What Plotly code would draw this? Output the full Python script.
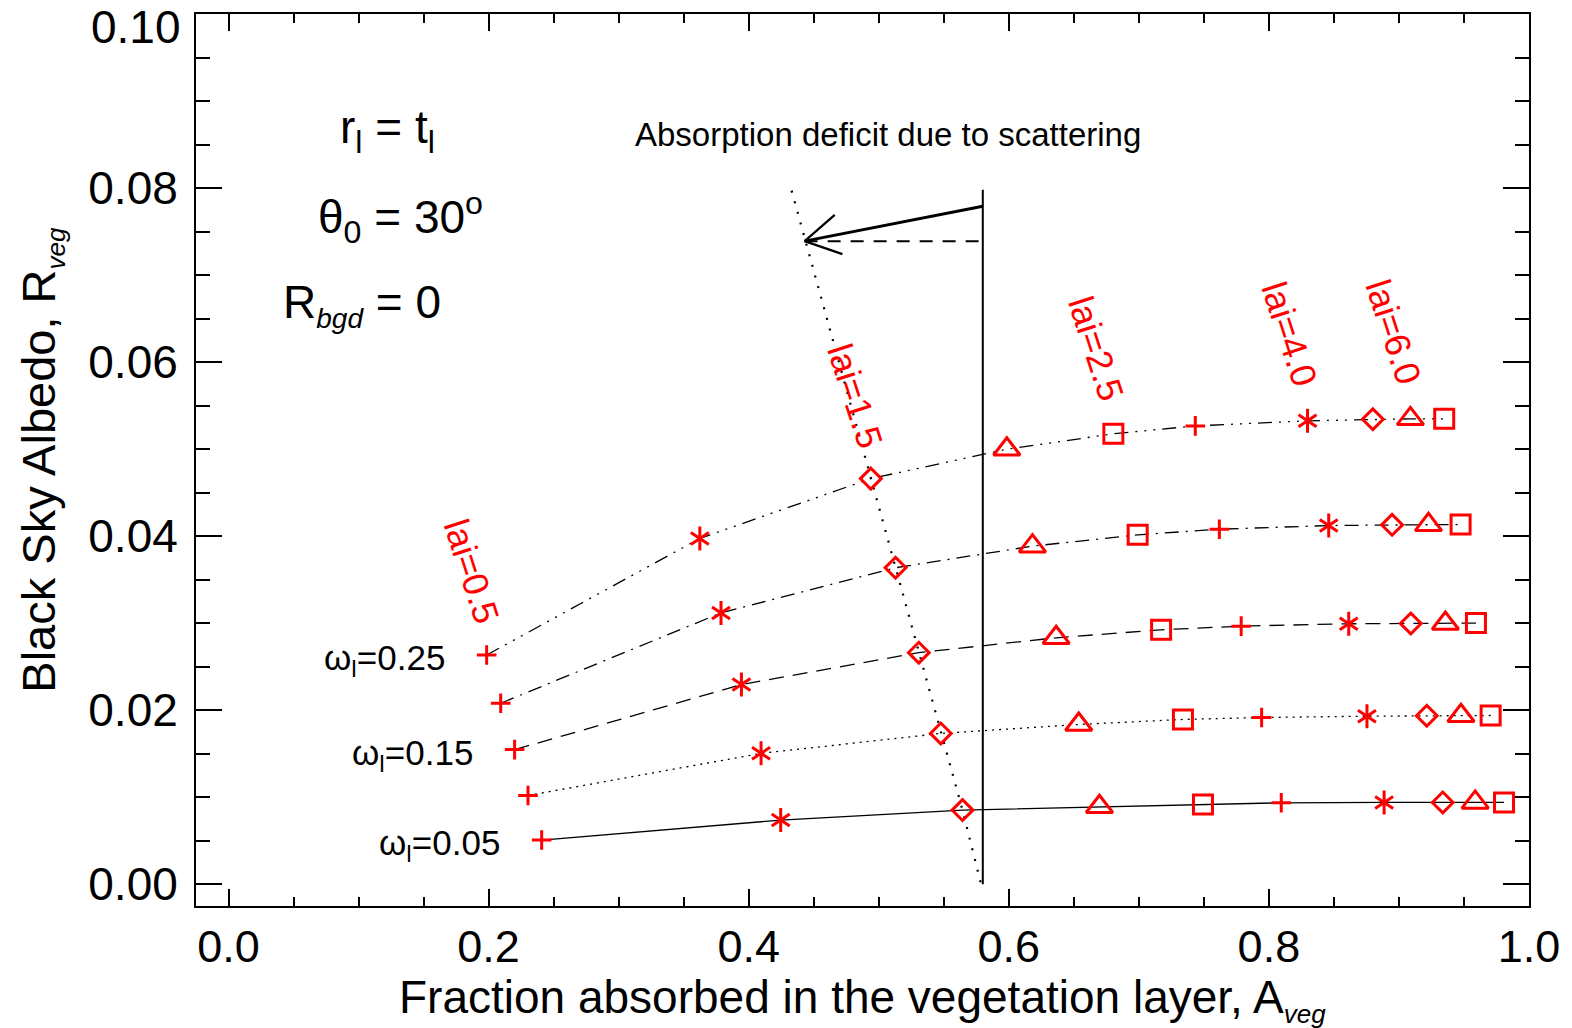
import plotly.graph_objects as go
import math

# ---------------- data ----------------
OMEGA_LABELS = ["0.05", "0.10", "0.15", "0.20", "0.25"]
SYMBOL_SEQ = ["plus", "asterisk", "diamond", "triangle", "square",
              "plus", "asterisk", "diamond", "triangle", "square"]

A_W05 = [0.2408, 0.4246, 0.5644, 0.6697, 0.7493, 0.8095, 0.8886, 0.9337, 0.9586, 0.9808]
R_W05 = [0.00508, 0.00737, 0.00852, 0.00890, 0.00917, 0.00936, 0.00940, 0.00940, 0.00940, 0.00940]
A_W10 = [0.2303, 0.4095, 0.5477, 0.6538, 0.7339, 0.7944, 0.8754, 0.9214, 0.9477, 0.9705]
R_W10 = [0.01020, 0.01504, 0.01733, 0.01836, 0.01894, 0.01916, 0.01931, 0.01936, 0.01936, 0.01939]
A_W15 = [0.2200, 0.3944, 0.5308, 0.6364, 0.7171, 0.7787, 0.8614, 0.9091, 0.9357, 0.9592]
R_W15 = [0.01547, 0.02294, 0.02661, 0.02832, 0.02924, 0.02966, 0.02993, 0.02996, 0.02996, 0.03001]
A_W20 = [0.2093, 0.3787, 0.5129, 0.6182, 0.6991, 0.7619, 0.8460, 0.8947, 0.9227, 0.9474]
R_W20 = [0.02080, 0.03118, 0.03637, 0.03885, 0.04015, 0.04080, 0.04122, 0.04130, 0.04130, 0.04134]
A_W25 = [0.1985, 0.3624, 0.4939, 0.5985, 0.6804, 0.7434, 0.8297, 0.8799, 0.9088, 0.9348]
R_W25 = [0.02634, 0.03974, 0.04661, 0.04999, 0.05176, 0.05267, 0.05325, 0.05343, 0.05348, 0.05348]

# lai = 1.5 iso-line (dotted)
A_LAI15 = [0.433, 0.4939, 0.5129, 0.5308, 0.5477, 0.5644, 0.5787]
R_LAI15 = [0.0797, 0.04661, 0.03637, 0.02661, 0.01733, 0.00852, 0.0000]

# absorption without scattering (vertical line) and the deficit arrow
A_NOSCAT = 0.580
R_NOSCAT_TOP = 0.0798
ARROW_TAIL = (0.580, 0.0779)
ARROW_TIP = (0.443, 0.0739)

X_TICKS = [0.0, 0.2, 0.4, 0.6, 0.8, 1.0]
X_TICK_LABELS = ["0.0", "0.2", "0.4", "0.6", "0.8", "1.0"]
Y_TICKS = [0.00, 0.02, 0.04, 0.06, 0.08, 0.10]
Y_TICK_LABELS = ["0.00", "0.02", "0.04", "0.06", "0.08", "0.10"]

LAI_LABELS = ["lai=0.5", "lai=1.5", "lai=2.5", "lai=4.0", "lai=6.0"]
LAI_LABEL_X = [0.1865, 0.4822, 0.6673, 0.8161, 0.8956]
LAI_LABEL_Y = [0.0360, 0.0561, 0.0616, 0.0632, 0.0635]

# ---------------- styles ----------------
X_RANGE = [-0.025, 1.0]
Y_RANGE = [-0.0025, 0.10]
FONT = "Liberation Sans"
RED = "#ff0000"
MLW = 3

curves = [
    (A_W05, R_W05, "solid"),
    (A_W10, R_W10, "2px,5px"),
    (A_W15, R_W15, "15px,9px"),
    (A_W20, R_W20, "14px,7px,2px,7px"),
    (A_W25, R_W25, "14px,7px,2px,7px,2px,7px,2px,7px"),
]

# each IDL symbol -> list of plotly symbols overlaid (asterisk = two Y shapes)
SYM_MAP = {"plus": ["cross-thin"], "asterisk": ["y-up", "y-down"],
           "diamond": ["diamond-open"], "triangle": ["triangle-up-open"],
           "square": ["square-open"]}
SIZE_MAP = {"plus": 14, "asterisk": 15, "diamond": 16, "triangle": 23, "square": 19}

fig = go.Figure()

# iso-lai dotted line
fig.add_trace(go.Scatter(x=A_LAI15, y=R_LAI15, mode="lines",
                         line=dict(color="black", width=2.2, dash="2px,9px"),
                         hoverinfo="skip"))

for a, r, dash in curves:
    fig.add_trace(go.Scatter(x=a, y=r, mode="lines",
                             line=dict(color="black", width=1.3, dash=dash),
                             hoverinfo="skip"))

for a, r, dash in curves:
    for key, psyms in SYM_MAP.items():
        idx = [i for i, s in enumerate(SYMBOL_SEQ) if s == key]
        for ps in psyms:
            fig.add_trace(go.Scatter(
                x=[a[i] for i in idx], y=[r[i] for i in idx], mode="markers",
                marker=dict(symbol=ps, size=SIZE_MAP[key], color=RED,
                            line=dict(color=RED, width=MLW))))

shapes = [
    dict(type="line", xref="x", yref="y", x0=A_NOSCAT, x1=A_NOSCAT, y0=0.0, y1=R_NOSCAT_TOP,
         line=dict(color="black", width=2)),
    dict(type="line", xref="x", yref="y", x0=ARROW_TAIL[0], x1=ARROW_TIP[0],
         y0=ARROW_TAIL[1], y1=ARROW_TIP[1], line=dict(color="black", width=3)),
    dict(type="line", xref="x", yref="y", x0=ARROW_TIP[0], x1=A_NOSCAT,
         y0=ARROW_TIP[1], y1=ARROW_TIP[1], line=dict(color="black", width=2, dash="13px,10px")),
]
# open arrow head (two strokes at +-30 deg to the shaft, in pixel space)
px_per_x = 1335.0 / (X_RANGE[1] - X_RANGE[0])
px_per_y = 894.0 / (Y_RANGE[1] - Y_RANGE[0])
dxp = (ARROW_TAIL[0] - ARROW_TIP[0]) * px_per_x
dyp = (ARROW_TAIL[1] - ARROW_TIP[1]) * px_per_y
ang = math.atan2(dyp, dxp)
head_len = 40.0
for da in (math.radians(30), -math.radians(30)):
    hx = ARROW_TIP[0] + head_len * math.cos(ang + da) / px_per_x
    hy = ARROW_TIP[1] + head_len * math.sin(ang + da) / px_per_y
    shapes.append(dict(type="line", xref="x", yref="y", x0=ARROW_TIP[0], y0=ARROW_TIP[1],
                       x1=hx, y1=hy, line=dict(color="black", width=2.2)))

annotations = []
for txt, x, y in zip(LAI_LABELS, LAI_LABEL_X, LAI_LABEL_Y):
    annotations.append(dict(text=txt, x=x, y=y, xref="x", yref="y", showarrow=False,
                            textangle=72, xanchor="center", yanchor="middle",
                            font=dict(family=FONT, size=36, color=RED)))

om_pos = {"0.25": (0.1679, 0.02572), "0.15": (0.1899, 0.01485), "0.05": (0.2105, 0.00454)}
for lab in ["0.25", "0.15", "0.05"]:
    x, y = om_pos[lab]
    annotations.append(dict(text="ω<sub>l</sub>=" + lab, x=x, y=y, xref="x", yref="y",
                            showarrow=False, xanchor="right", yanchor="middle",
                            font=dict(family=FONT, size=35, color="black")))

SUB_VEG = '<sub><span style="font-size:26px"><i>veg</i></span></sub>'

annotations += [
    dict(text="r<sub>l</sub> = t<sub>l</sub>", x=0.1224, y=0.0866, xref="x", yref="y",
         showarrow=False, xanchor="center", yanchor="middle",
         font=dict(family=FONT, size=46, color="black")),
    dict(text="θ<sub>0</sub> = 30<sup>o</sup>", x=0.132, y=0.0766, xref="x", yref="y",
         showarrow=False, xanchor="center", yanchor="middle",
         font=dict(family=FONT, size=46, color="black")),
    dict(text='R<sub><span style="font-size:28px"><i>bgd</i></span></sub> = 0',
         x=0.1024, y=0.0666, xref="x", yref="y",
         showarrow=False, xanchor="center", yanchor="middle",
         font=dict(family=FONT, size=46, color="black")),
    dict(text="Absorption deficit due to scattering", x=0.5068, y=0.0862, xref="x", yref="y",
         showarrow=False, xanchor="center", yanchor="middle",
         font=dict(family=FONT, size=33, color="black")),
    # axis titles
    dict(text="Fraction absorbed in the vegetation layer, A" + SUB_VEG,
         x=0.5, y=-0.1052, xref="paper", yref="paper", showarrow=False,
         xanchor="center", yanchor="middle", font=dict(family=FONT, size=46, color="black")),
    dict(text="Black Sky Albedo, R" + SUB_VEG,
         x=-0.1165, y=0.5, xref="paper", yref="paper", showarrow=False, textangle=-90,
         xanchor="center", yanchor="middle", font=dict(family=FONT, size=47, color="black")),
    # top y tick label, drawn just inside the page as in the reference
    dict(text=Y_TICK_LABELS[-1], x=-0.0094, y=0.9855, xref="paper", yref="paper",
         showarrow=False, xanchor="right", yanchor="middle",
         font=dict(family=FONT, size=46, color="black")),
]

y_ticktext = Y_TICK_LABELS[:-1] + [""]

fig.update_layout(
    width=1572, height=1028,
    margin=dict(l=196, r=41, t=12, b=122),
    plot_bgcolor="white", paper_bgcolor="white",
    showlegend=False,
    font=dict(family=FONT, color="black"),
    shapes=shapes, annotations=annotations,
    xaxis=dict(range=X_RANGE, tickvals=X_TICKS, ticktext=X_TICK_LABELS,
               ticks="inside", ticklen=17, tickwidth=2, tickcolor="black",
               showline=True, linewidth=2, linecolor="black", mirror="ticks",
               showgrid=False, zeroline=False,
               tickfont=dict(family=FONT, size=45, color="black"),
               ticklabelstandoff=0,
               minor=dict(dtick=0.05, tick0=0, ticks="inside", ticklen=9,
                          tickwidth=2, tickcolor="black", showgrid=False)),
    yaxis=dict(range=Y_RANGE, tickvals=Y_TICKS, ticktext=y_ticktext,
               ticks="inside", ticklen=26, tickwidth=2, tickcolor="black",
               showline=True, linewidth=2, linecolor="black", mirror="ticks",
               showgrid=False, zeroline=False,
               tickfont=dict(family=FONT, size=46, color="black"),
               ticklabelstandoff=7,
               minor=dict(dtick=0.005, tick0=0, ticks="inside", ticklen=14,
                          tickwidth=2, tickcolor="black", showgrid=False)),
)

fig.write_html("out.html")
